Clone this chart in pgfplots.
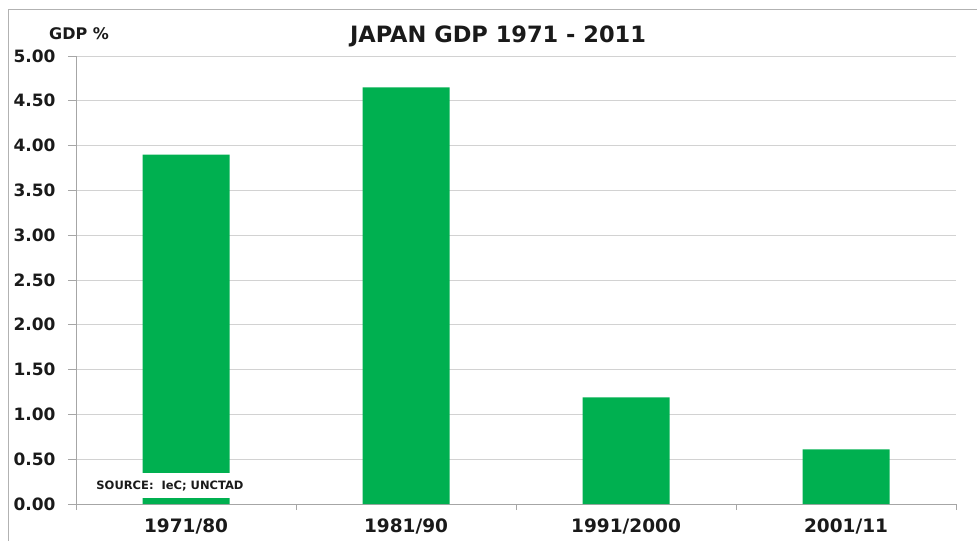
\documentclass[border=0pt]{standalone}
\usepackage{fontspec}
\setmainfont{DejaVu Sans}
\usepackage{pgfplots}
\pgfplotsset{compat=1.18}
\definecolor{bargreen}{HTML}{00B050}
\definecolor{txt}{HTML}{1A1A1A}
\begin{document}
\begin{tikzpicture}[x=1pt,y=1pt]
\useasboundingbox (0,0) rectangle (977,541);
\draw[gray!60, line width=1pt] (8,0) -- (8,531) -- (977,531);
\begin{axis}[
  at={(76pt,37pt)}, anchor=south west,
  scale only axis, width=880pt, height=448pt,
  xmin=0.5, xmax=4.5, ymin=0, ymax=5,
  axis x line*=bottom, axis y line*=left,
  axis line style={gray!70, line width=0.8pt, -},
  ytick={0,0.5,...,5},
  /pgf/number format/fixed, /pgf/number format/fixed zerofill,
  /pgf/number format/precision=2, /pgf/number format/assume math mode=true,
  yticklabel style={font=\bfseries\fontsize{17}{17}\selectfont, text=txt, xshift=-9pt},
  ymajorgrids, grid style={gray!35, line width=0.8pt},
  tick align=outside,
  major tick length=8pt,
  tick style={gray!70, line width=0.8pt},
  xtick={1,2,3,4},
  xticklabels={1971/80,1981/90,1991/2000,2001/11},
  x tick style={draw=none},
  xticklabel style={font=\bfseries\fontsize{18.5}{18.5}\selectfont, text=txt, yshift=-6pt, inner ysep=1pt},
  extra x ticks={0.5,1.5,2.5,3.5,4.5},
  extra x tick labels={},
  extra x tick style={x tick style={draw=gray!70, line width=0.8pt}, major tick length=6pt, grid=none},
  ybar, bar width=87pt,
]
\addplot[fill=bargreen, draw=none] coordinates {(1,3.90) (2,4.65) (3,1.19) (4,0.61)};
\end{axis}
\node[text=txt, font=\bfseries\fontsize{22.5}{22.5}\selectfont] at (498,505) {JAPAN GDP 1971 - 2011};
\node[text=txt, font=\bfseries\fontsize{16}{16}\selectfont] at (79,507) {GDP \%};
\fill[white] (92,43) rectangle (250,68);
\node[text=txt, font=\bfseries\fontsize{11.5}{11.5}\selectfont] at (170,55) {SOURCE:\ \ IeC; UNCTAD};
\end{tikzpicture}
\end{document}
